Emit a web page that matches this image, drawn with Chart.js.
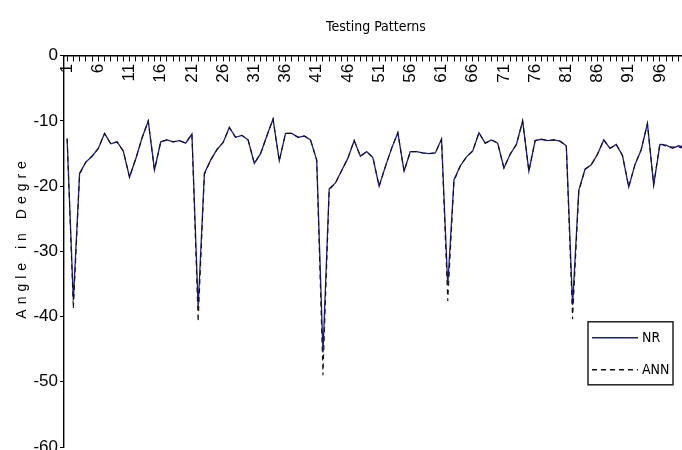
<!DOCTYPE html>
<html>
<head>
<meta charset="utf-8">
<script src="https://cdn.jsdelivr.net/npm/chart.js@4.4.1/dist/chart.umd.min.js"></script>
<style>
  html, body { margin: 0; padding: 0; background: #fff; overflow: hidden; }
  #wrap { width: 690px; height: 450px; }
</style>
</head>
<body>
<div id="wrap"><canvas id="chart"></canvas></div>
<script>
// Data
const categories = Array.from({ length: 100 }, (_, i) => String(i + 1));

const nrValues = [
    -12.7, -37.5, -18.0, -16.3, -15.4, -14.2, -11.9, -13.5, -13.2, -14.6,
    -18.6, -15.8, -12.6, -10.0, -17.5, -13.2, -12.9, -13.2, -13.0, -13.4,
    -12.0, -38.5, -18.0, -16.0, -14.4, -13.3, -11.0, -12.5, -12.2, -12.9,
    -16.5, -15.0, -12.3, -9.7, -16.1, -11.9, -11.9, -12.5, -12.3, -12.9,
    -16.0, -45.5, -20.4, -19.5, -17.6, -15.7, -13.0, -15.4, -14.7, -15.6,
    -20.0, -17.0, -14.2, -11.8, -17.7, -14.7, -14.7, -14.9, -15.0, -14.9,
    -12.8, -35.2, -19.0, -16.9, -15.5, -14.6, -11.8, -13.4, -12.9, -13.4,
    -17.2, -15.1, -13.6, -10.0, -17.7, -13.0, -12.8, -13.0, -12.9, -13.1,
    -13.8, -38.2, -20.6, -17.4, -16.7, -15.1, -12.9, -14.2, -13.6, -15.3,
    -20.1, -16.7, -14.4, -10.4, -19.8, -13.6, -13.7, -14.2, -13.8, -14.0
];

const annValues = [
    -12.7, -38.8, -18.2, -16.3, -15.4, -14.2, -11.9, -13.5, -13.2, -14.6,
    -18.6, -15.8, -12.6, -10.0, -17.5, -13.2, -12.9, -13.2, -13.0, -13.4,
    -12.0, -40.8, -18.2, -16.0, -14.4, -13.3, -11.0, -12.5, -12.2, -12.9,
    -16.5, -15.0, -12.3, -9.7, -16.1, -11.9, -11.9, -12.5, -12.3, -12.9,
    -16.0, -49.0, -20.6, -19.5, -17.6, -15.7, -13.0, -15.4, -14.7, -15.6,
    -20.0, -17.0, -14.2, -11.8, -17.7, -14.7, -14.7, -14.9, -15.0, -14.9,
    -12.8, -37.6, -19.2, -16.9, -15.5, -14.6, -11.8, -13.4, -12.9, -13.4,
    -17.2, -15.1, -13.6, -10.0, -17.7, -13.0, -12.8, -13.0, -12.9, -13.1,
    -13.8, -40.4, -20.8, -17.4, -16.7, -15.1, -12.9, -14.2, -13.6, -15.3,
    -20.1, -16.7, -14.4, -10.4, -19.8, -13.4, -13.9, -14.0, -14.0, -14.2
];

const yTicks = [0, -10, -20, -30, -40, -50, -60];

const narrow = "'DejaVu Sans Condensed', 'Liberation Sans', Arial, sans-serif";
const regular = "'Liberation Sans', Arial, sans-serif";

// Spaced out y title, sitting a little above centre like the original
const spacedTitle = {
    id: 'spacedTitle',
    beforeDraw(chart) {
        const s = chart.scales.y;
        if (s && !s._spaced) {
            const orig = s.drawTitle;
            s.drawTitle = function () {
                this.ctx.save();
                this.ctx.letterSpacing = '5px';
                this.ctx.translate(0, -14);
                orig.call(this);
                this.ctx.restore();
            };
            s._spaced = true;
        }
    }
};

// Boxed legend sitting inside the plot, lower right
const boxLegend = {
    id: 'boxLegend',
    afterDraw(chart) {
        const { ctx, chartArea } = chart;
        const x0 = chartArea.left + 524;
        const y0 = chartArea.top + 266;
        const w = 85, h = 63;
        ctx.save();
        ctx.fillStyle = '#fff';
        ctx.fillRect(x0, y0, w, h);
        ctx.lineWidth = 1.5;
        ctx.strokeStyle = '#222';
        ctx.strokeRect(x0, y0, w, h);
        ctx.font = `14px ${narrow}`;
        ctx.textBaseline = 'middle';
        chart.data.datasets.forEach((ds, k) => {
            const y = y0 + 16 + k * 32;
            ctx.beginPath();
            ctx.setLineDash(ds.borderDash || []);
            ctx.lineWidth = 1.4;
            ctx.strokeStyle = ds.borderColor;
            ctx.moveTo(x0 + 4, y);
            ctx.lineTo(x0 + 50, y);
            ctx.stroke();
            ctx.setLineDash([]);
            ctx.fillStyle = '#000';
            ctx.fillText(ds.label, x0 + 54, y + 1);
        });
        ctx.restore();
    }
};

new Chart(document.getElementById('chart'), {
    type: 'line',
    data: {
        labels: categories,
        datasets: [{
            label: 'NR',
            data: nrValues,
            borderColor: '#1c1c8f',
            borderWidth: 1.3,
            pointRadius: 0,
            tension: 0,
            order: 2
        }, {
            label: 'ANN',
            data: annValues,
            borderColor: '#111',
            borderWidth: 1.1,
            borderDash: [5, 4],
            pointRadius: 0,
            tension: 0,
            order: 1
        }]
    },
    options: {
        responsive: true,
        maintainAspectRatio: false,
        animation: false,
        layout: { padding: { top: 0, right: 2, bottom: 3, left: 0 } },
        plugins: {
            legend: { display: false },
            tooltip: { enabled: false },
            title: {
                display: true,
                text: 'Testing Patterns',
                fullSize: false,
                color: '#000',
                font: { family: narrow, size: 14, weight: 'normal' },
                padding: { top: 19, bottom: 20 }
            }
        },
        scales: {
            x: {
                position: { y: 0 },
                offset: true,
                afterFit: (axis) => {
                    axis.height = 0;
                    axis.paddingLeft = 0;
                    axis.paddingRight = 0;
                },
                border: { color: '#000', width: 1.4 },
                grid: { display: true, drawOnChartArea: false, drawTicks: true, tickLength: 5, color: '#000' },
                ticks: {
                    autoSkip: false,
                    minRotation: 90,
                    maxRotation: 90,
                    padding: 3,
                    color: '#000',
                    font: { family: regular, size: 17 },
                    callback: function (value, index) {
                        return index % 5 === 0 ? this.getLabelForValue(value) : '';
                    }
                }
            },
            y: {
                min: -60,
                max: 0,
                afterFit: (axis) => {
                    axis.width = 64;
                    axis.paddingTop = 0;
                    axis.paddingBottom = 0;
                },
                afterBuildTicks: (axis) => { axis.ticks = yTicks.map(v => ({ value: v })); },
                border: { color: '#000', width: 1.4 },
                grid: { display: true, drawOnChartArea: false, drawTicks: true, tickLength: 4, color: '#000' },
                ticks: {
                    padding: 2,
                    color: '#000',
                    font: { family: regular, size: 17 }
                },
                title: {
                    display: true,
                    text: 'Angle in Degre',
                    color: '#000',
                    font: { family: regular, size: 14 },
                    padding: { top: 14 }
                }
            }
        }
    },
    plugins: [spacedTitle, boxLegend]
});
</script>
</body>
</html>
